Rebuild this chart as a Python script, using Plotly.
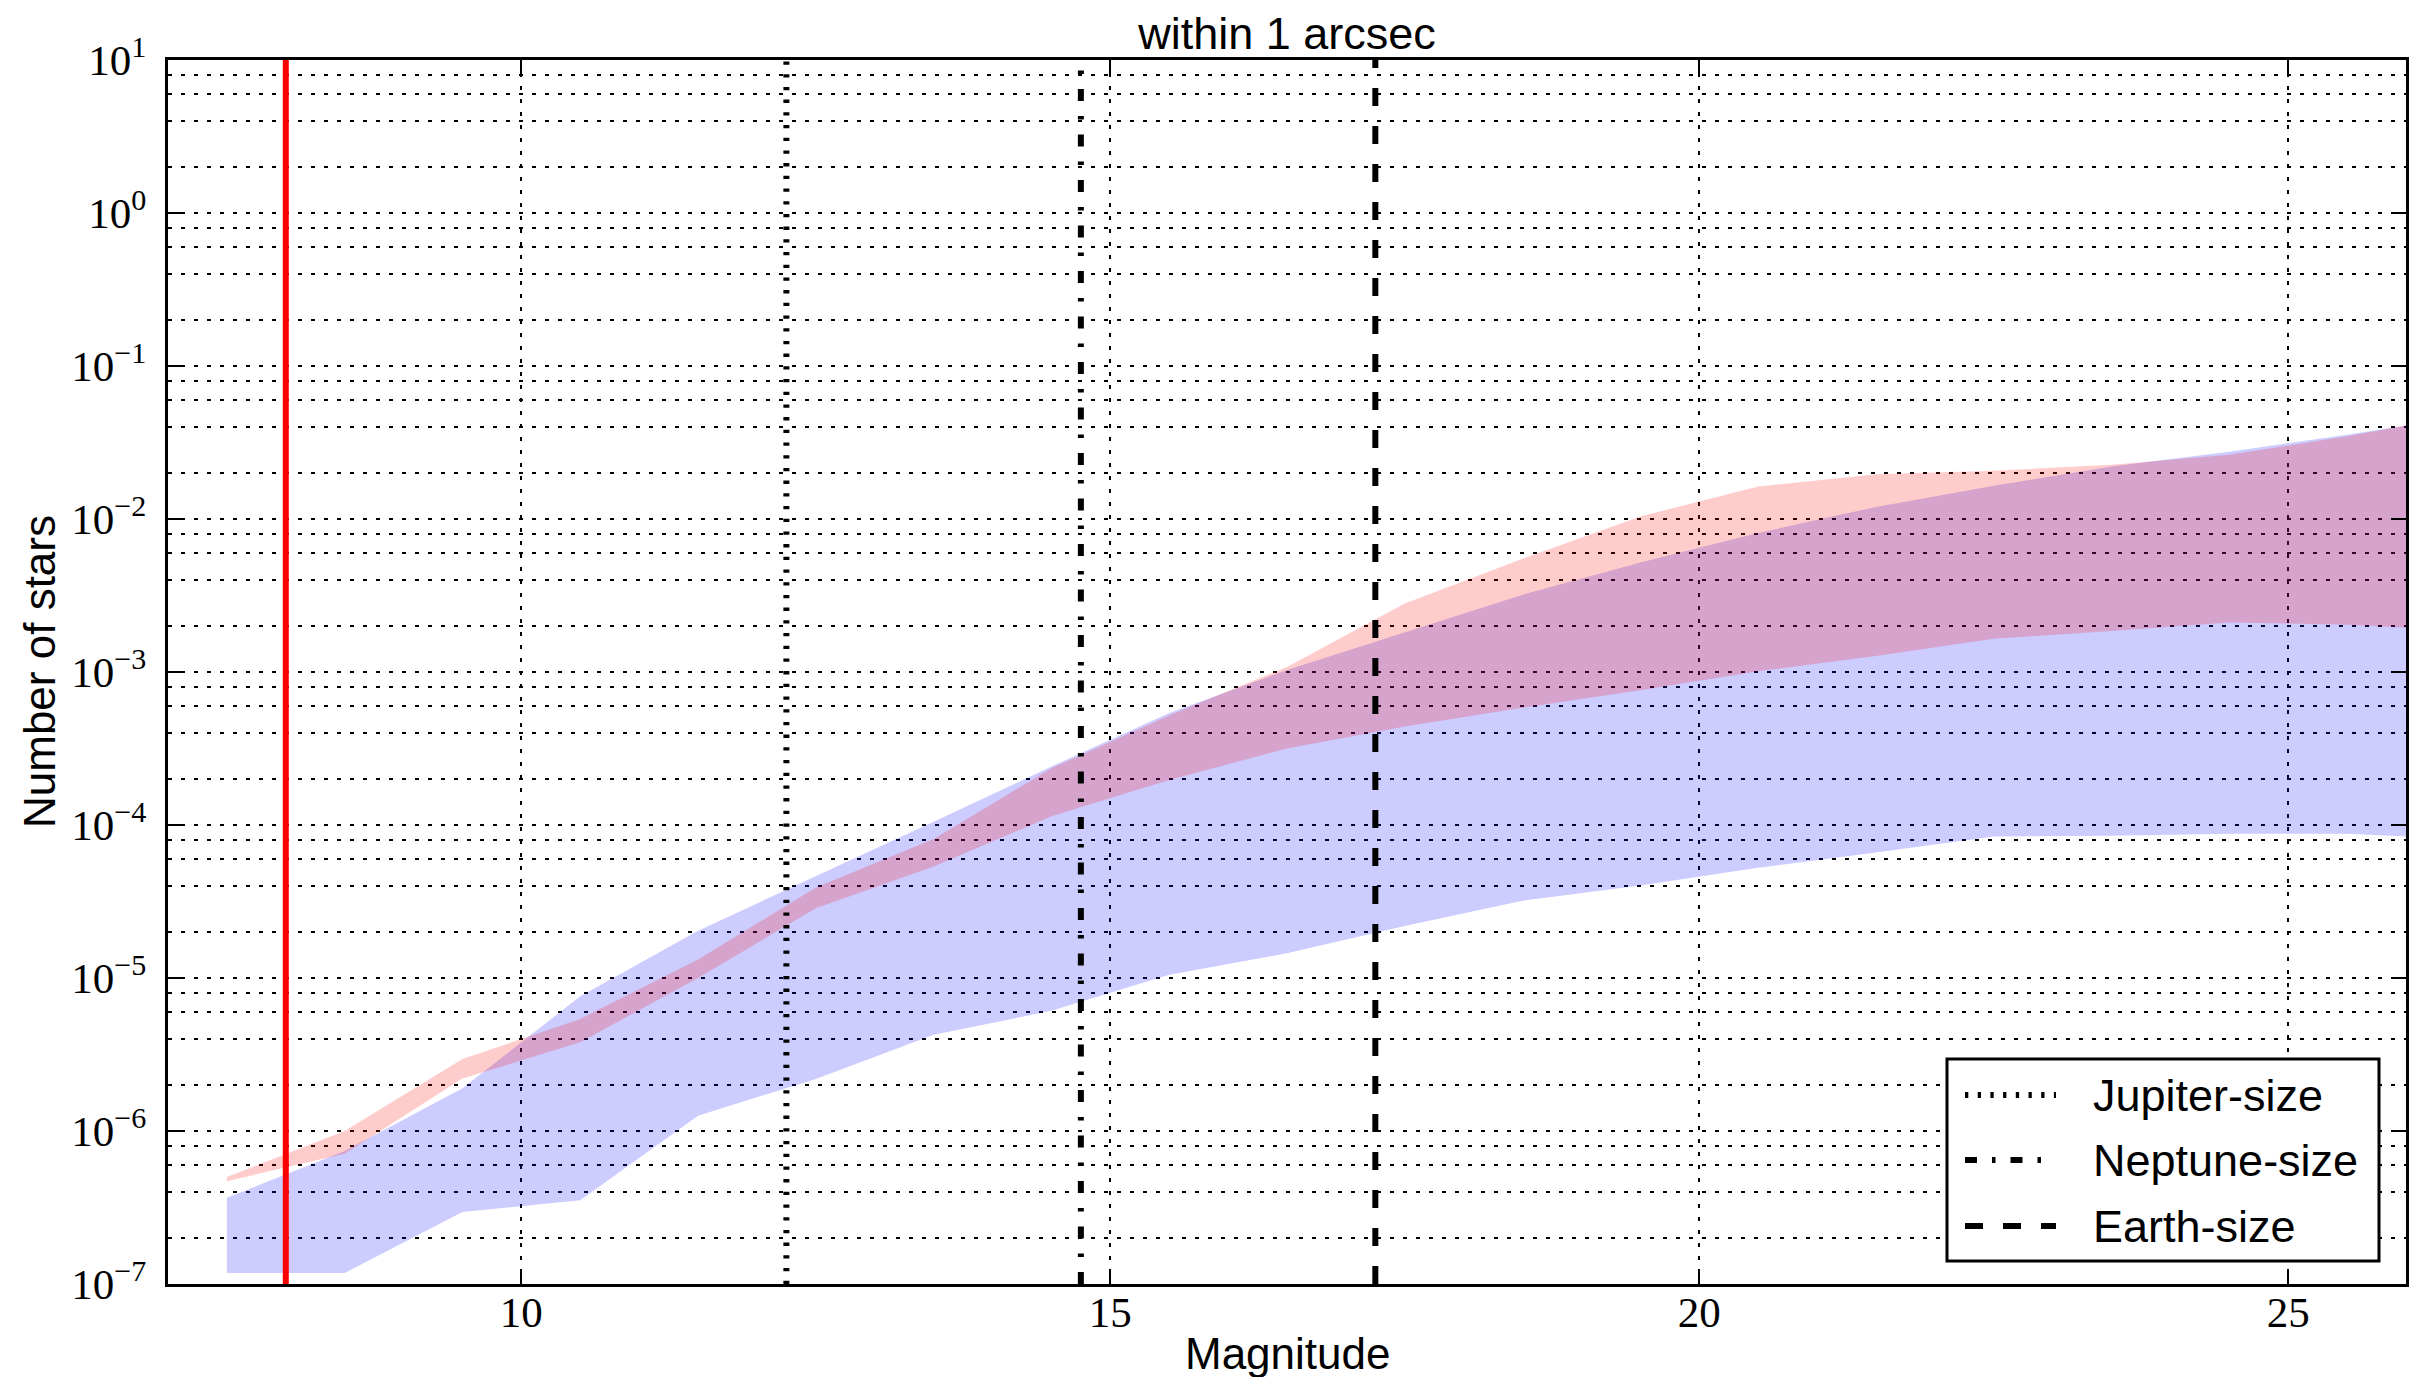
import plotly.graph_objects as go

# ---------------- data ----------------
magnitudes = [7.5, 8.5, 9.5, 10.5, 11.5, 12.5, 13.5, 14.5, 15.5, 16.5,
              17.5, 18.5, 19.5, 20.5, 21.5, 22.5, 23.5, 24.5, 25.5, 26.5]

# blue band (upper / lower envelope), number of stars
blue_upper = [3.66e-7, 7.4e-7, 1.9e-6, 7.6e-6, 2.04e-5, 4.6e-5, 1.05e-4, 2.41e-4, 5.4e-4, 1.03e-3,
              1.82e-3, 3.2e-3, 5.2e-3, 8.1e-3, 1.2e-2, 1.65e-2, 2.2e-2, 2.75e-2, 3.55e-2, 4.7e-2]
blue_lower = [1.18e-7, 1.18e-7, 2.95e-7, 3.53e-7, 1.26e-6, 2.19e-6, 4.25e-6, 6.1e-6, 1.05e-5, 1.45e-5,
              2.19e-5, 3.2e-5, 4.03e-5, 5.25e-5, 6.6e-5, 8.4e-5, 8.5e-5, 8.75e-5, 8.75e-5, 8.1e-5]

# red band (upper / lower envelope)
red_upper = [5.0e-7, 1.0e-6, 2.95e-6, 5.4e-6, 1.32e-5, 3.9e-5, 8.1e-5, 2.35e-4, 5.2e-4, 1.08e-3,
             2.8e-3, 5.5e-3, 1.04e-2, 1.63e-2, 1.96e-2, 2.07e-2, 2.26e-2, 2.63e-2, 3.47e-2, 4.8e-2]
red_lower = [4.7e-7, 7.1e-7, 2.2e-6, 3.8e-6, 1.0e-5, 2.86e-5, 5.35e-5, 1.14e-4, 1.97e-4, 3.16e-4,
             4.4e-4, 5.85e-4, 7.6e-4, 1.01e-3, 1.27e-3, 1.65e-3, 1.85e-3, 2.11e-3, 2.04e-3, 1.86e-3]

limit_magnitude = 8.0
planet_names = ["Jupiter-size", "Neptune-size", "Earth-size"]
planet_magnitudes = [12.25, 14.75, 17.25]

x_tick_vals = [10, 15, 20, 25]
x_tick_text = ["10", "15", "20", "25"]
y_exponents = [-7, -6, -5, -4, -3, -2, -1, 0, 1]
y_tick_text = ["10<sup>\u22127</sup>", "10<sup>\u22126</sup>", "10<sup>\u22125</sup>",
               "10<sup>\u22124</sup>", "10<sup>\u22123</sup>", "10<sup>\u22122</sup>",
               "10<sup>\u22121</sup>", "10<sup>0</sup>", "10<sup>1</sup>"]
minor_subs = [2, 4, 6, 8]

title_text = "within 1 arcsec"
x_title = "Magnitude"
y_title = "Number of stars"

# ---------------- styles / layout (window pixel coordinates) ----------------
WIN_W, WIN_H = 2430, 1385
BODY = 8                                # default page margin around the figure
W, H = WIN_W - 2 * BODY, WIN_H - 2 * BODY
PLOT_L, PLOT_T, PLOT_R, PLOT_B = 168, 60, 2406, 1284   # plot area in window pixels
ML = PLOT_L - BODY
MT = PLOT_T - BODY
MR = (BODY + W) - PLOT_R
MB = (BODY + H) - PLOT_B

SANS = "Liberation Sans, Arial, sans-serif"
SERIF = "Liberation Serif, DejaVu Serif, serif"
planet_dashes = ["3.3px,9.4px", "12px,15px,3.5px,15px", "18px,20px"]
GRID_DASH = "4px,9px"
LINE_W = 6

y_tick_vals = [10.0 ** e for e in y_exponents]
minor_vals = [s * 10.0 ** e for e in y_exponents[:-1] for s in minor_subs]

fig = go.Figure()

bands = [
    (blue_lower, blue_upper, "rgba(0,0,255,0.2)"),
    (red_lower, red_upper, "rgba(255,0,0,0.2)"),
]
for lower, upper, col in bands:
    fig.add_trace(go.Scatter(x=magnitudes, y=lower, mode="lines",
                             line=dict(width=0, color=col), showlegend=False,
                             hoverinfo="skip"))
    fig.add_trace(go.Scatter(x=magnitudes, y=upper, mode="lines",
                             line=dict(width=0, color=col), fill="tonexty",
                             fillcolor=col, showlegend=False, hoverinfo="skip"))

y_lo, y_hi = 10.0 ** y_exponents[0], 10.0 ** y_exponents[-1]

fig.add_trace(go.Scatter(x=[limit_magnitude, limit_magnitude], y=[y_lo, y_hi],
                         mode="lines", line=dict(color="red", width=LINE_W),
                         showlegend=False, hoverinfo="skip"))

for name, mag, dash in zip(planet_names, planet_magnitudes, planet_dashes):
    fig.add_trace(go.Scatter(x=[mag, mag], y=[y_lo, y_hi], mode="lines", name=name,
                             line=dict(color="black", width=LINE_W, dash=dash),
                             showlegend=False, hoverinfo="skip"))

# ---------------- custom legend (matplotlib-like box) ----------------
pw = PLOT_R - PLOT_L
ph = PLOT_B - PLOT_T


def px_to_paper(px, py):
    return (px - PLOT_L) / pw, (PLOT_B - py) / ph


bx0, by0 = px_to_paper(1947, 1261)
bx1, by1 = px_to_paper(2379, 1059)
shapes = [dict(type="rect", xref="paper", yref="paper", x0=bx0, y0=by0, x1=bx1, y1=by1,
               line=dict(color="black", width=3), fillcolor="white", layer="above")]
annotations = []
row_y = [1095, 1160, 1226]
for name, dash, ry in zip(planet_names, planet_dashes, row_y):
    lx0, ly = px_to_paper(1965, ry)
    lx1, _ = px_to_paper(2056, ry)
    tx, _ = px_to_paper(2091, ry)
    shapes.append(dict(type="line", xref="paper", yref="paper", x0=lx0, x1=lx1, y0=ly, y1=ly,
                       line=dict(color="black", width=LINE_W, dash=dash), layer="above"))
    annotations.append(dict(text=name, xref="paper", yref="paper", x=tx, y=ly,
                            xanchor="left", yanchor="middle", showarrow=False,
                            font=dict(family=SANS, size=45, color="black")))

# axis titles placed as annotations (matplotlib positions)
xt_x, xt_y = px_to_paper((PLOT_L + PLOT_R) / 2, 1353)
annotations.append(dict(text=x_title, xref="paper", yref="paper", x=xt_x, y=xt_y,
                        xanchor="center", yanchor="middle", showarrow=False,
                        font=dict(family=SANS, size=44, color="black")))
yt_x, yt_y = px_to_paper(39, (PLOT_T + PLOT_B) / 2)
annotations.append(dict(text=y_title, xref="paper", yref="paper", x=yt_x, y=yt_y,
                        xanchor="center", yanchor="middle", showarrow=False, textangle=-90,
                        font=dict(family=SANS, size=44, color="black")))

axis_common = dict(
    showline=True, linewidth=3, linecolor="black", mirror="ticks",
    ticks="inside", ticklen=15, tickwidth=1.5, tickcolor="black",
    showgrid=True, gridcolor="black", gridwidth=1.5, griddash=GRID_DASH,
    zeroline=False, automargin=False,
    tickfont=dict(family=SERIF, size=43, color="black"),
)

fig.update_layout(
    width=W, height=H, autosize=False,
    margin=dict(l=ML, r=MR, t=MT, b=MB, autoexpand=False),
    paper_bgcolor="white", plot_bgcolor="white",
    title=dict(text=title_text, x=0.5, xref="paper", xanchor="center",
               y=1 - (33 - BODY) / H, yref="container", yanchor="middle",
               font=dict(family=SANS, size=45, color="black")),
    xaxis=dict(range=[7, 26], tickmode="array", tickvals=x_tick_vals, ticktext=x_tick_text,
               ticklabelstandoff=-12, **axis_common),
    yaxis=dict(type="log", range=[y_exponents[0], y_exponents[-1]], tickmode="array",
               tickvals=y_tick_vals, ticktext=y_tick_text, ticklabelstandoff=10,
               minor=dict(tickmode="array", tickvals=minor_vals, showgrid=True,
                          gridcolor="black", gridwidth=1.5, griddash=GRID_DASH,
                          ticks=""),
               **axis_common),
    shapes=shapes,
    annotations=annotations,
    showlegend=False,
)

fig.write_html("out.html")
